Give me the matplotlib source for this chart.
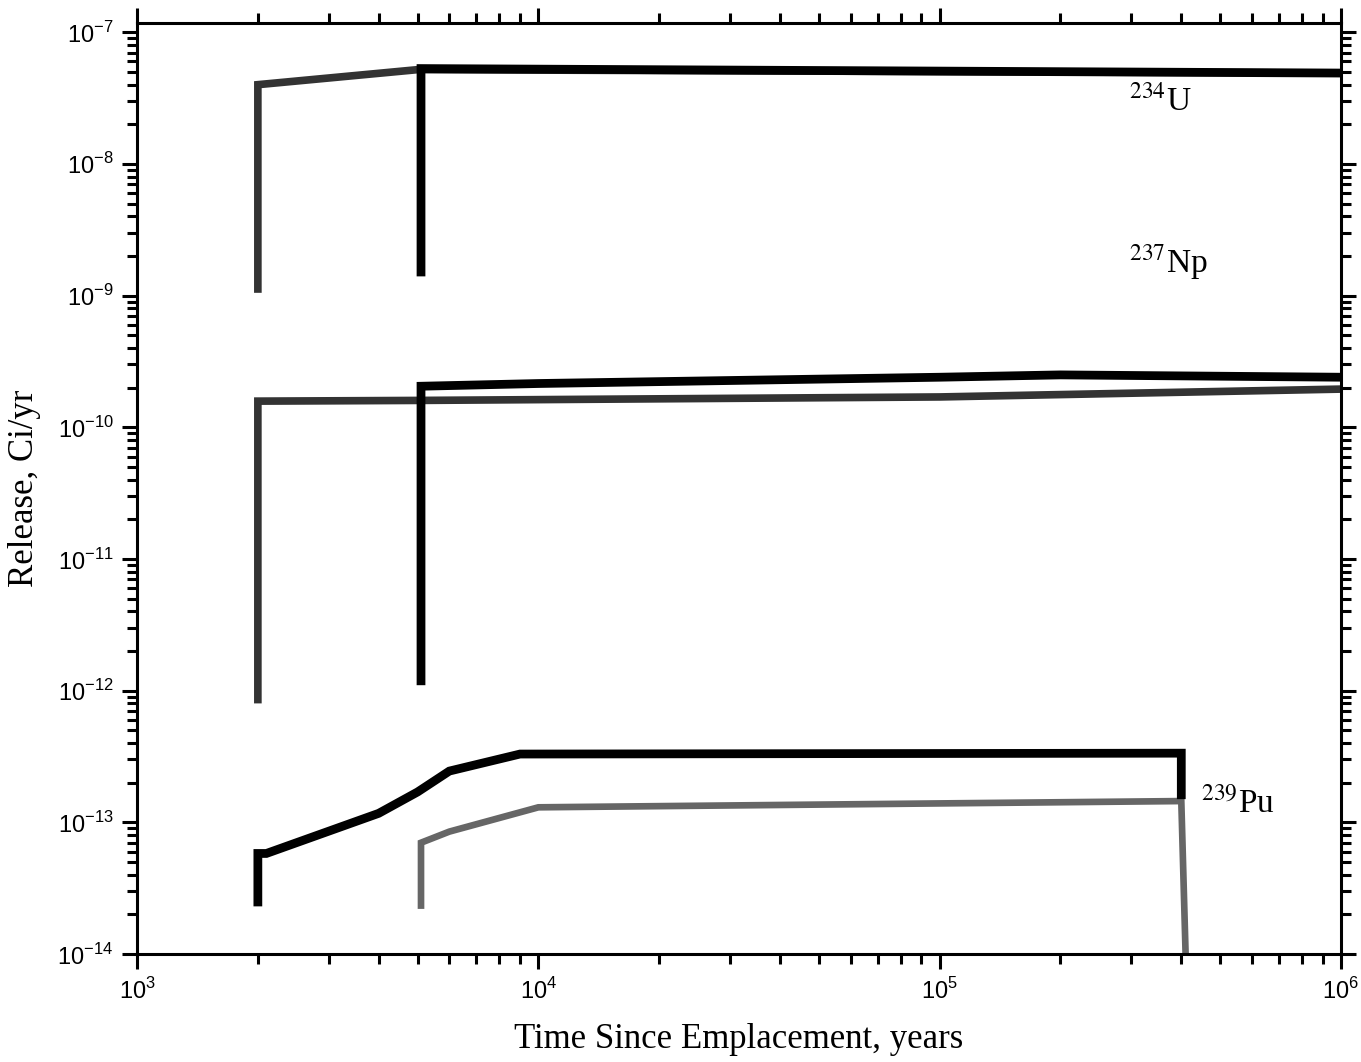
import numpy as np
import matplotlib
matplotlib.use("Agg")
import matplotlib.pyplot as plt
from matplotlib.ticker import LogLocator, NullFormatter, FixedLocator

# release curves, Ci/yr vs years since emplacement
u_gray_t = [2000, 2000, 5000, 1e6]
u_gray_r = [1.05e-9, 4.0e-8, 5.2e-8, 4.9e-8]
u_black_t = [5100, 5100, 1e6]
u_black_r = [1.4e-9, 5.3e-8, 4.9e-8]

np_gray_t = [2000, 2000, 5100, 1e5, 1e6]
np_gray_r = [8.0e-13, 1.58e-10, 1.6e-10, 1.7e-10, 1.95e-10]
np_black_t = [5100, 5100, 1e4, 1e5, 2e5, 1e6]
np_black_r = [1.1e-12, 2.05e-10, 2.15e-10, 2.4e-10, 2.5e-10, 2.4e-10]

pu_black_t = [2000, 2000, 2100, 4000, 5000, 6000, 9000, 4e5, 4e5]
pu_black_r = [2.3e-14, 5.8e-14, 5.8e-14, 1.17e-13, 1.7e-13, 2.45e-13, 3.3e-13, 3.35e-13, 1.5e-13]
pu_gray_t = [5100, 5100, 6000, 1e4, 4e5, 4.1e5]
pu_gray_r = [2.2e-14, 7.0e-14, 8.5e-14, 1.3e-13, 1.45e-13, 1e-14]

labels = ["$^{234}$U", "$^{237}$Np", "$^{239}$Pu"]
label_pos = [(2.96e5, 3.0e-8), (2.96e5, 1.8e-9), (4.48e5, 1.4e-13)]

yticks = [10.0**e for e in range(-14, -6)]
ytick_labels = ["$10^{%d}$" % e for e in range(-14, -6)]
xticks = [1e3, 1e4, 1e5, 1e6]
xtick_labels = ["$10^{3}$", "$10^{4}$", "$10^{5}$", "$10^{6}$"]

serif = "Liberation Serif"
sans = "Liberation Sans"
plt.rcParams["mathtext.fontset"] = "custom"
plt.rcParams["mathtext.rm"] = sans

fig = plt.figure(figsize=(13.61, 10.62), dpi=100)
ax = fig.add_axes([0.1007, 0.1017, 0.8846, 0.8766])

black = "#000000"
gray = "#333333"
lgray = "#666666"
kw = dict(solid_capstyle="butt", solid_joinstyle="miter")

ax.plot(u_gray_t, u_gray_r, color=gray, lw=5.5, **kw)
ax.plot(u_black_t, u_black_r, color=black, lw=6.3, **kw)
ax.plot(np_gray_t, np_gray_r, color=gray, lw=5.5, **kw)
ax.plot(np_black_t, np_black_r, color=black, lw=6.3, **kw)
ax.plot(pu_gray_t, pu_gray_r, color=lgray, lw=4.8, **kw)
ax.plot(pu_black_t, pu_black_r, color=black, lw=6.3, **kw)

for lab, (x, y) in zip(labels, label_pos):
    ax.text(x, y, lab, fontsize=24, family=serif, ha="left", va="center",
            math_fontfamily="stix")

ax.set_xscale("log")
ax.set_yscale("log")
ax.set_xlim(1e3, 1e6)
ax.set_ylim(1e-14, 10 ** -6.93)

ax.xaxis.set_major_locator(FixedLocator(xticks))
ax.set_xticklabels(xtick_labels)
ax.yaxis.set_major_locator(FixedLocator(yticks))
ax.set_yticklabels(ytick_labels)
ax.xaxis.set_minor_locator(LogLocator(base=10, subs=np.arange(2, 10)))
ax.yaxis.set_minor_locator(LogLocator(base=10, subs=np.arange(2, 10)))
ax.xaxis.set_minor_formatter(NullFormatter())
ax.yaxis.set_minor_formatter(NullFormatter())

ax.tick_params(which="both", direction="out", top=True, right=True, width=2.2)
ax.tick_params(which="major", length=11, labelsize=17, pad=6)
ax.tick_params(which="minor", length=7)
for s in ax.spines.values():
    s.set_linewidth(2.2)

ax.set_xlabel("Time Since Emplacement, years", fontsize=25, family=serif, labelpad=14)
ax.set_ylabel("Release, Ci/yr", fontsize=25, family=serif, labelpad=12)

fig.savefig("out.png", dpi=100)
